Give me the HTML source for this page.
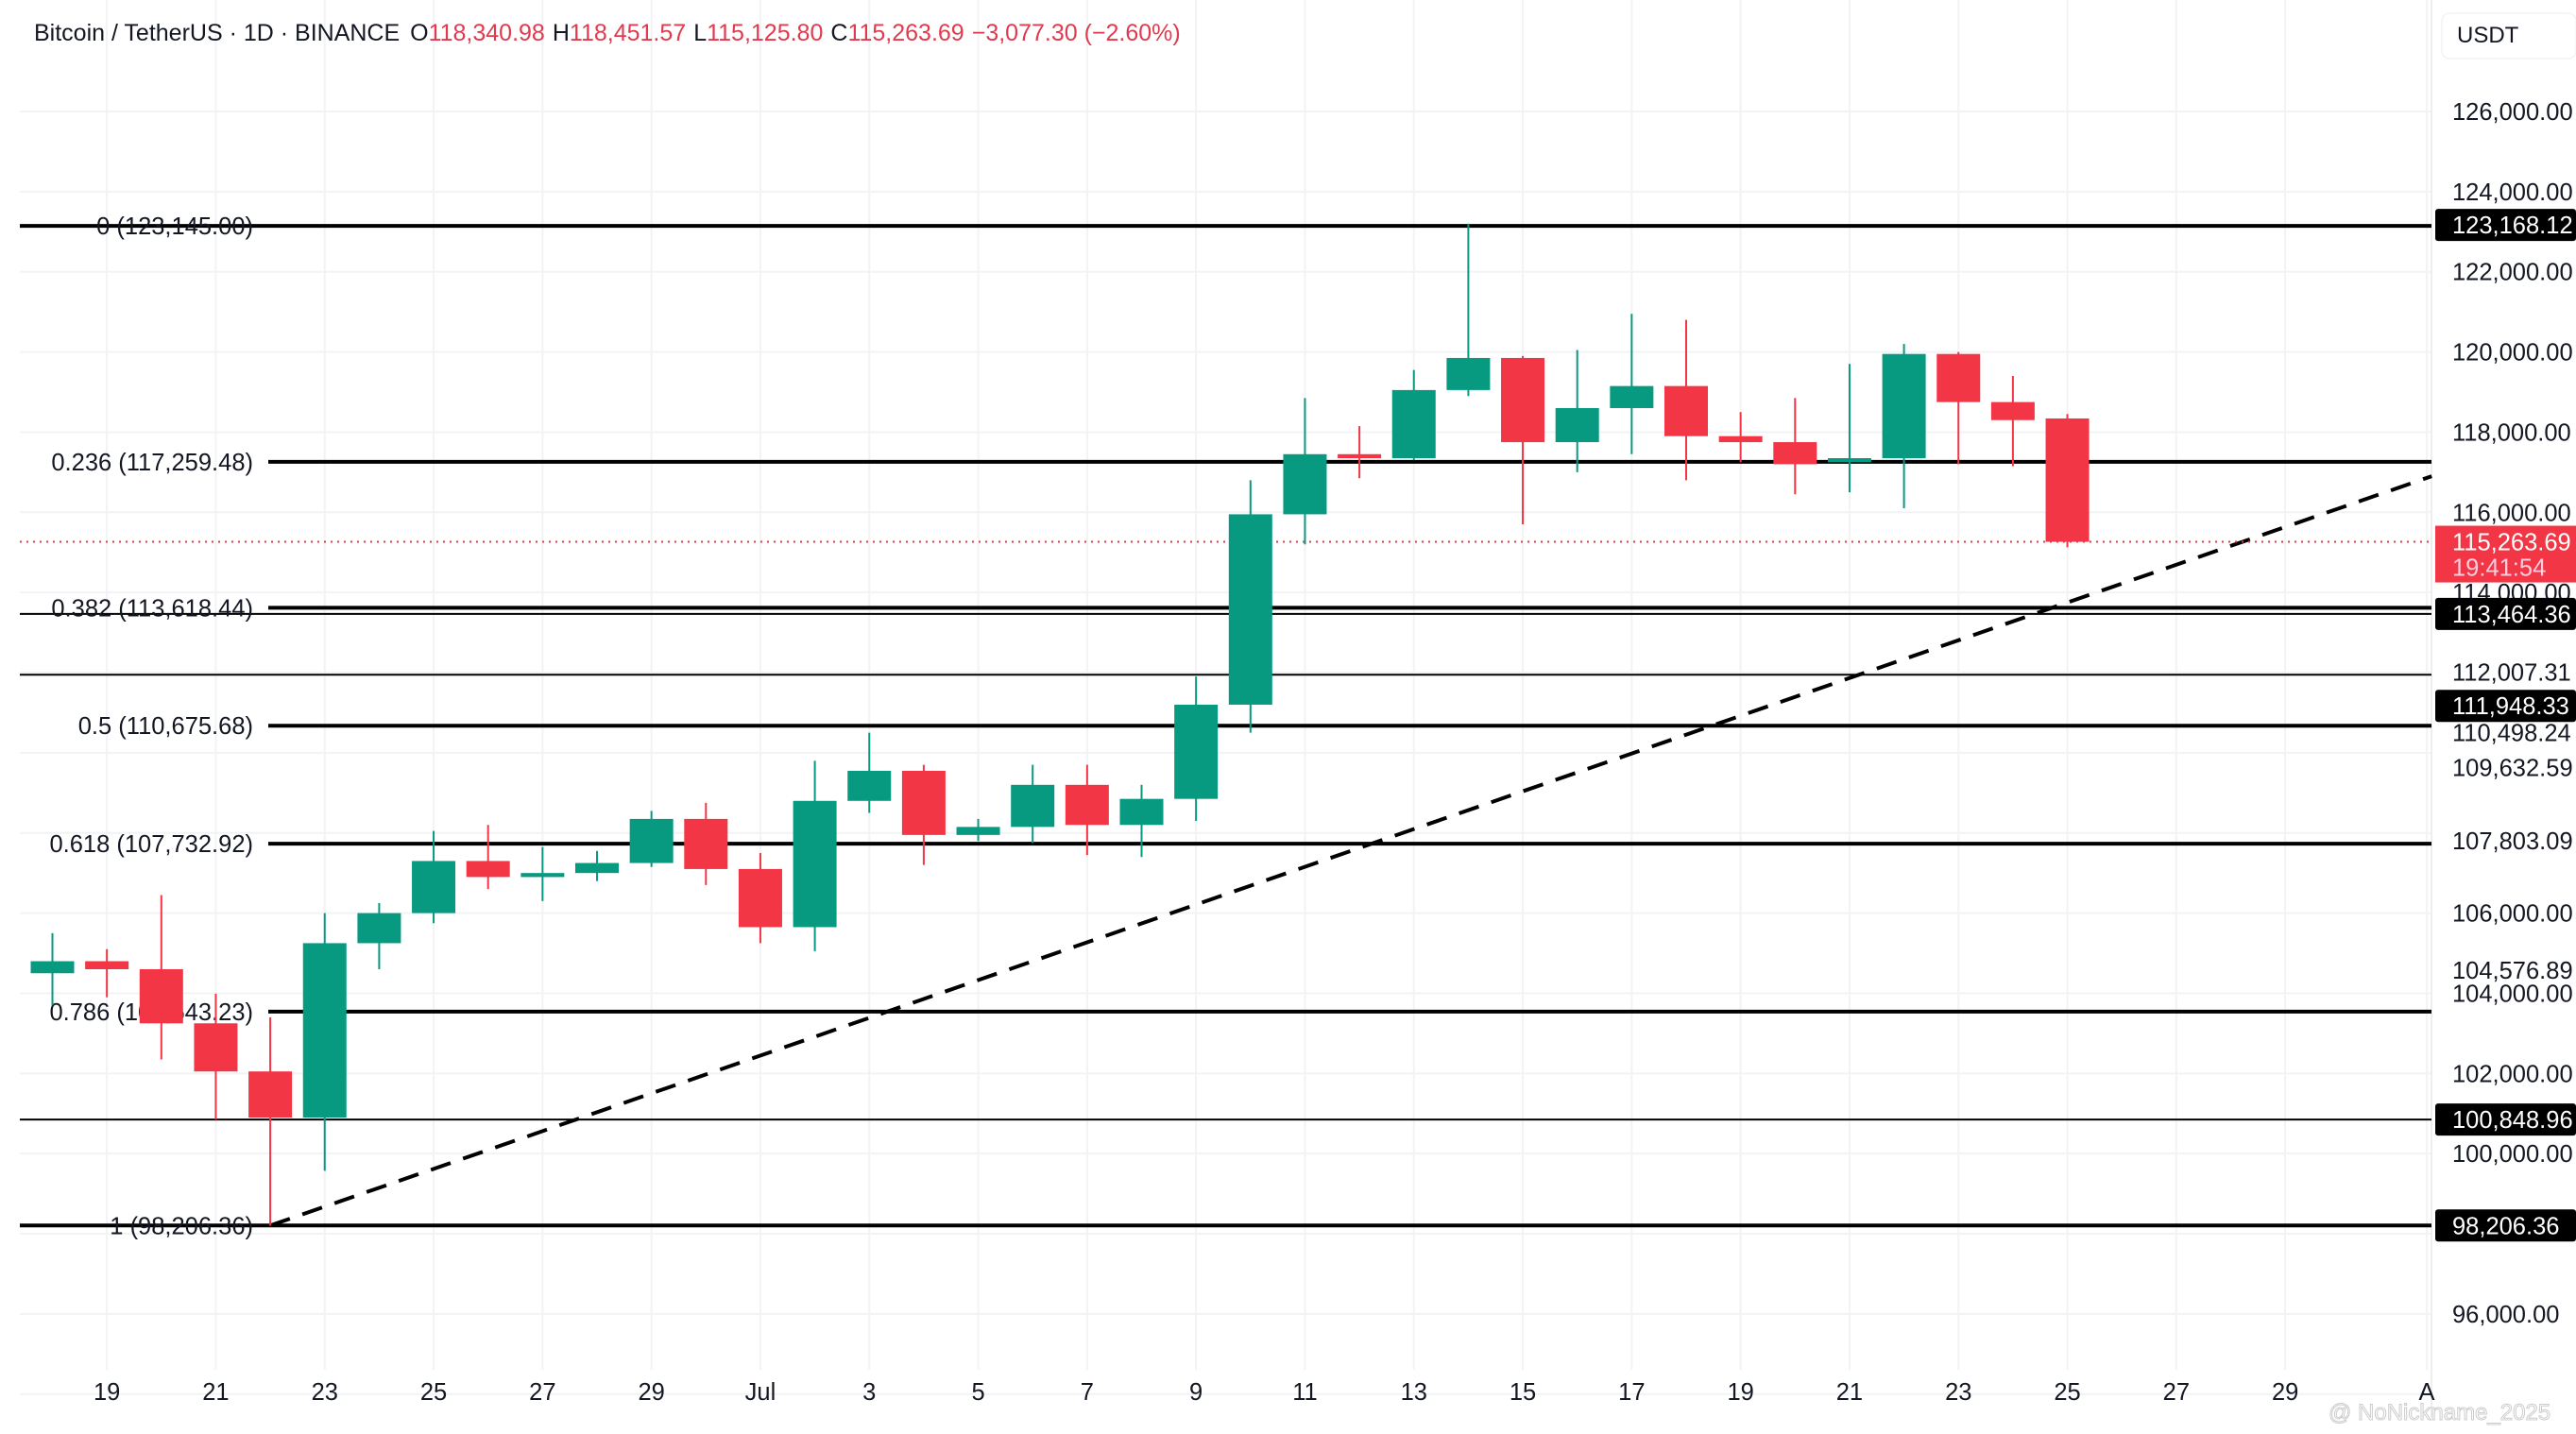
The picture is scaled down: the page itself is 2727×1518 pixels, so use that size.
<!DOCTYPE html>
<html><head><meta charset="utf-8"><style>
html,body{margin:0;padding:0;background:#fff;}
svg{display:block;font-family:"Liberation Sans",sans-serif;}
</style></head><body>
<svg id="chart" width="2727" height="1518" viewBox="0 0 2727 1518" xmlns="http://www.w3.org/2000/svg">
<rect width="2727" height="1518" fill="#fff"/>
<g id="grid"></g>
<g id="levels"></g>
<g id="candles"></g>
<g id="axis"></g>
<g id="xaxis"></g>
<text x="36" y="43" font-size="25" fill="#131722">Bitcoin / TetherUS · 1D · BINANCE <tspan dx="4">O</tspan><tspan fill="#e03a4e">118,340.98</tspan><tspan dx="8">H</tspan><tspan fill="#e03a4e">118,451.57</tspan><tspan dx="8">L</tspan><tspan fill="#e03a4e">115,125.80</tspan><tspan dx="8">C</tspan><tspan fill="#e03a4e">115,263.69</tspan><tspan dx="8" fill="#e03a4e">−3,077.30 (−2.60%)</tspan></text>
<rect x="2585" y="14" width="142" height="48" rx="8" fill="#fff" stroke="#eee"/>
<text x="2601" y="45" font-size="24" fill="#131722">USDT</text>
<text x="2465" y="1503" font-size="24" fill="#fff" stroke="#ccc" stroke-width="1">@ NoNickname_2025</text>
</svg>
<script>
const dates=["Jun18","Jun19","Jun20","Jun21","Jun22","Jun23","Jun24","Jun25","Jun26","Jun27","Jun28","Jun29","Jun30","Jul1","Jul2","Jul3","Jul4","Jul5","Jul6","Jul7","Jul8","Jul9","Jul10","Jul11","Jul12","Jul13","Jul14","Jul15","Jul16","Jul17","Jul18","Jul19","Jul20","Jul21","Jul22","Jul23","Jul24","Jul25"];
const opens=[104500,104800,104600,103250,102050,100900,105250,106000,107300,106900,107000,107250,108350,107100,105650,108800,109550,107950,108150,109200,108200,108850,111200,115950,117450,117350,119050,119850,117750,118600,119150,117900,117750,117250,117350,119950,118750,118341];
const highs=[105500,105100,106450,103990,103400,106000,106250,108050,108200,107650,107550,108550,108750,107500,109800,110500,109700,108350,109700,109700,109200,111900,116800,118850,118150,119550,123200,119900,120050,120950,120800,118500,118850,119700,120200,120000,119400,118452];
const lows=[103700,103900,102350,100850,98200,99570,104600,105750,106600,106300,106800,107150,106700,105250,105050,108500,107200,107800,107750,107450,107400,108300,110500,115200,116850,117300,118900,115700,117000,117450,116800,117250,116450,116500,116100,117200,117150,115126];
const closes=[104800,104600,103250,102050,100900,105250,106000,107300,106900,107000,107250,108350,107100,105650,108800,109550,107950,108150,109200,108200,108850,111200,115950,117450,117350,119050,119850,117750,118600,119150,117900,117750,117200,117350,119950,118750,118300,115264];
const priceTicks=[126000,124000,122000,120000,118000,116000,114000,106000,104000,102000,100000,96000];
const dateTickLabels=["19","21","23","25","27","29","Jul","3","5","7","9","11","13","15","17","19","21","23","25","27","29","A"];
const dateTickIdx=[1,3,5,7,9,11,13,15,17,19,21,23,25,27,29,31,33,35,37,39,41,43.6];
const fibLabels=["0 (123,145.00)","0.236 (117,259.48)","0.382 (113,618.44)","0.5 (110,675.68)","0.618 (107,732.92)","0.786 (103,543.23)","1 (98,206.36)"];
const fibPrices=[123145,117259.48,113618.44,110675.68,107732.92,103543.23,98206.36];
const rayPrices=[113464.36,111948.33,100848.96];
const boxLabels=[123168.12,113464.36,100848.96,98206.36];
const shiftedBox=111948.33;
const plainLabels=[112007.31,110498.24,109632.59,107803.09,104576.89];
const lastPrice=115263.69;
const trendStart=[4,98206.36], trendEnd=[43.69,116900];

const NS="http://www.w3.org/2000/svg";
const X0=55.5, DX=57.65, PL=21, PR=2574, FS=25.5;
const y=p=>118+(126000-p)*0.04243;
const x=i=>X0+i*DX;
function mk(tag,attrs,parent){const e=document.createElementNS(NS,tag);for(const k in attrs)e.setAttribute(k,attrs[k]);parent.appendChild(e);return e;}
const G=document.getElementById('grid'),L=document.getElementById('levels'),C=document.getElementById('candles'),A=document.getElementById('axis'),XA=document.getElementById('xaxis');
const fmt=v=>v.toLocaleString('en-US',{minimumFractionDigits:2,maximumFractionDigits:2});

for(let p=126000;p>=94000;p-=2000){const l=mk('line',{x1:PL,x2:PR,y1:y(p),y2:y(p),stroke:'#f2f3f5','stroke-width':2},G);

}
dateTickIdx.forEach((d,i)=>{const l=mk('line',{x1:x(d),x2:x(d),y1:0,y2:1450,stroke:'#f2f3f5','stroke-width':2},G);


const t=mk('text',{x:x(d),y:1482,'font-size':FS,'text-anchor':'middle',fill:'#131722'},XA);t.textContent=dateTickLabels[i];

});
mk('line',{x1:PR,x2:PR,y1:0,y2:1500,stroke:'#eee','stroke-width':2},G);

rayPrices.forEach(p=>{const l=mk('line',{x1:PL,x2:PR,y1:y(p),y2:y(p),stroke:'#000','stroke-width':2},L);

});
fibPrices.forEach((p,i)=>{const full=(i===0||i===6);const l=mk('line',{x1:full?PL:284,x2:PR,y1:y(p),y2:y(p),stroke:'#000','stroke-width':4},L);


const t=mk('text',{x:268,y:y(p)+9,'font-size':FS,'text-anchor':'end',fill:'#131722'},L);t.textContent=fibLabels[i];

});
const tl=mk('line',{x1:x(trendStart[0]),y1:y(trendStart[1]),x2:x(trendEnd[0]),y2:y(trendEnd[1]),stroke:'#000','stroke-width':4,'stroke-dasharray':'22 14'},L);


const ll=mk('line',{x1:PL,x2:PR,y1:y(lastPrice),y2:y(lastPrice),stroke:'#e03a4e','stroke-width':2,'stroke-dasharray':'2 5'},L);



dates.forEach((d,i)=>{const o=opens[i],c=closes[i],up=c>=o,col=up?'#089981':'#f23645';
const w=mk('line',{x1:x(i),x2:x(i),y1:y(highs[i]),y2:y(lows[i]),stroke:col,'stroke-width':2},C);


const top=y(Math.max(o,c)),h=Math.max(3,y(Math.min(o,c))-top);
const b=mk('rect',{x:x(i)-23,y:top,width:46,height:h,fill:col},C);

});

priceTicks.forEach(p=>{const t=mk('text',{x:2596,y:y(p)+9,'font-size':FS,fill:'#131722'},A);t.textContent=fmt(p);

});
plainLabels.forEach(p=>{const t=mk('text',{x:2596,y:y(p)+9,'font-size':FS,fill:'#131722'},A);t.textContent=fmt(p);

});
function box(p,off){const r=mk('rect',{x:2578,y:y(p)-17+off,width:149,height:34,fill:'#000',rx:3},A);


const t=mk('text',{x:2596,y:y(p)+9+off,'font-size':FS,fill:'#fff'},A);t.textContent=fmt(p);

}
boxLabels.forEach(p=>box(p,0));
box(shiftedBox,33);
const lr=mk('rect',{x:2578,y:y(lastPrice)-17,width:149,height:60,fill:'#f23645'},A);


const lt=mk('text',{x:2596,y:y(lastPrice)+9,'font-size':FS,fill:'#fff'},A);lt.textContent=fmt(lastPrice);


const ct=mk('text',{x:2596,y:y(lastPrice)+36,'font-size':FS,fill:'#fcd'},A);ct.textContent="19:41:54";


</script>
</body></html>
